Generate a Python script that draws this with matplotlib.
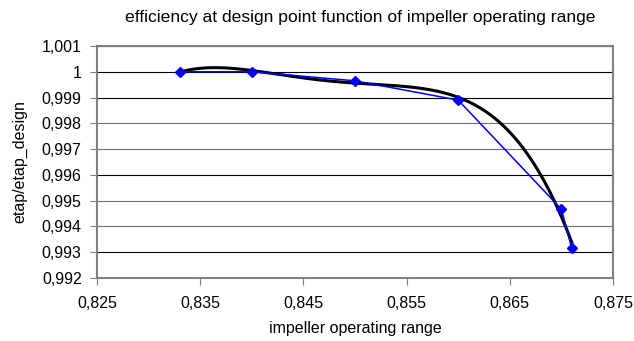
import numpy as np
import matplotlib
matplotlib.use("Agg")
import matplotlib.pyplot as plt

plt.rcParams['font.family'] = ['Liberation Sans', 'DejaVu Sans']

# data
op_range = [0.833, 0.840, 0.850, 0.860, 0.870, 0.871]
eff_ratio = [1.0000, 1.0000, 0.99965, 0.9989, 0.99467, 0.99315]

xticks = [0.825, 0.835, 0.845, 0.855, 0.865, 0.875]
xticklabels = ['0,825', '0,835', '0,845', '0,855', '0,865', '0,875']
yticks = [0.992, 0.993, 0.994, 0.995, 0.996, 0.997, 0.998, 0.999, 1.0, 1.001]
yticklabels = ['0,992', '0,993', '0,994', '0,995', '0,996', '0,997', '0,998', '0,999', '1', '1,001']

fig = plt.figure(figsize=(6.34, 3.41), dpi=100)
ax = fig.add_axes([97/634, 1 - 278/341, (613-97)/634, (278-46)/341])

# trendline (4th order polynomial, like the spreadsheet one)
coef = np.polyfit(op_range, eff_ratio, 4)
xs = np.linspace(op_range[0], op_range[-1], 200)
ax.plot(xs, np.polyval(coef, xs), color='black', lw=2.2, zorder=3)

ax.plot(op_range, eff_ratio, color='#0000ff', lw=1.1, marker='D', ms=5.5,
        mfc='#0000ff', mec='#0000ff', zorder=4)

ax.set_xlim(0.825, 0.875)
ax.set_ylim(0.992, 1.001)
ax.set_xticks(xticks)
ax.set_xticklabels(xticklabels)
ax.set_yticks(yticks)
ax.set_yticklabels(yticklabels)
ax.tick_params(labelsize=11.5, length=5, color='#808080', direction='out')
ax.tick_params(axis='x', pad=8)
ax.tick_params(axis='y', pad=6)
ax.yaxis.grid(True, color='black', lw=0.8)
# spreadsheet draws half of the gridlines lighter
for val, gl in zip(yticks, ax.get_ygridlines()):
    if val in (0.994, 0.995, 0.997, 0.998):
        gl.set_color('#707070')
for s in ax.spines.values():
    s.set_color('#808080')
    s.set_linewidth(1.5)

ax.set_xlabel('impeller operating range', fontsize=11.5, labelpad=7)
ax.set_ylabel('etap/etap_design', fontsize=11.5, labelpad=10)
ax.set_title('efficiency at design point function of impeller operating range',
             fontsize=12.6, pad=17, x=0.51)

fig.savefig('out.png', dpi=100)
